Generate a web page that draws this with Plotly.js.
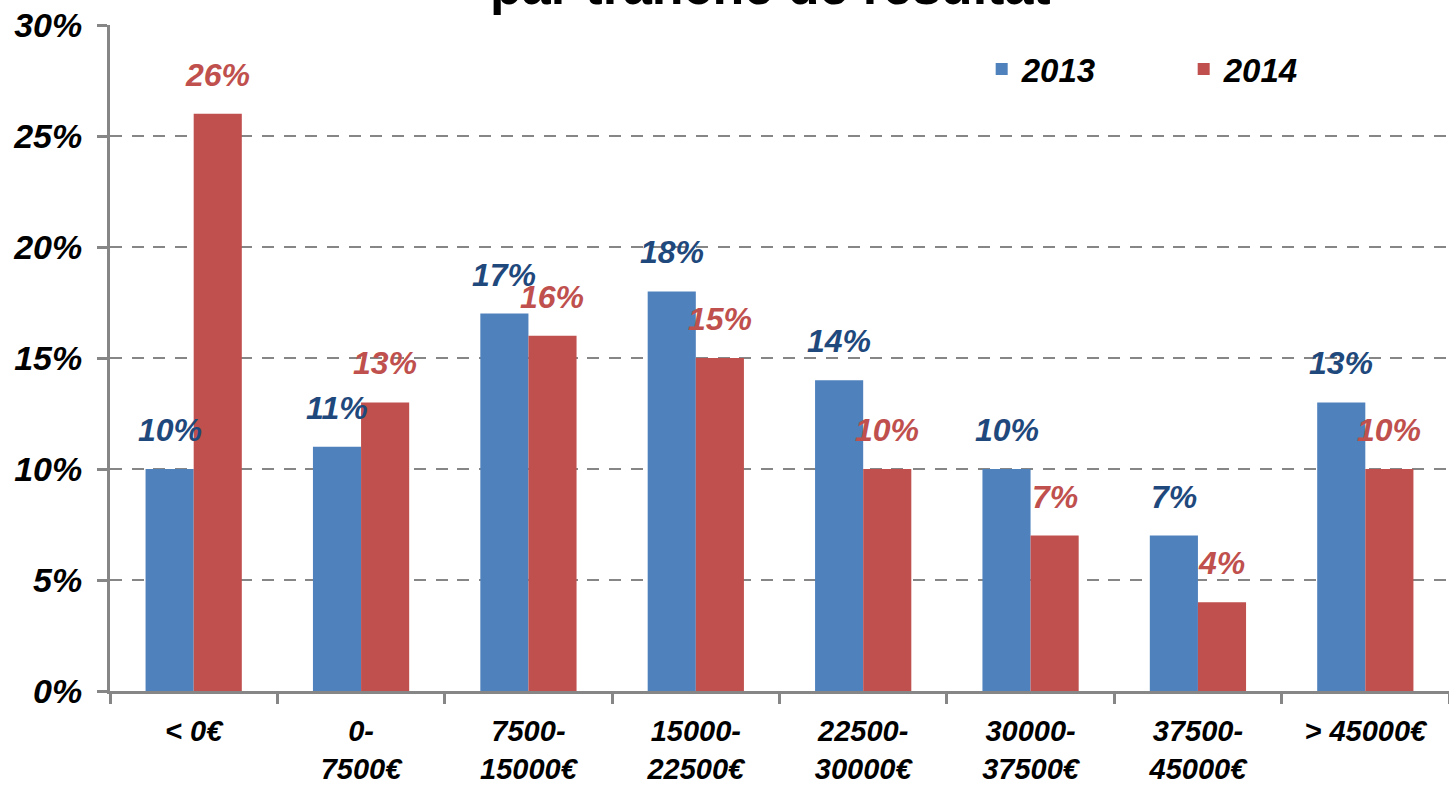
<!DOCTYPE html>
<html>
<head>
<meta charset="utf-8">
<script src="https://cdn.plot.ly/plotly-3.0.1.min.js"></script>
<style>html,body{margin:0;padding:0;background:#fff;}#chart{width:1449px;height:785px;}</style>
</head>
<body>
<div id="chart"></div>
<script>
var categories = ["< 0€", "0-<br>7500€", "7500-<br>15000€", "15000-<br>22500€", "22500-<br>30000€", "30000-<br>37500€", "37500-<br>45000€", "> 45000€"];
var series2013 = [0.10, 0.11, 0.17, 0.18, 0.14, 0.10, 0.07, 0.13];
var series2014 = [0.26, 0.13, 0.16, 0.15, 0.10, 0.07, 0.04, 0.10];
var seriesNames = ["2013", "2014"];
var titleText = "par tranche de résultat";

var FONT = "Liberation Sans, Arial, sans-serif";
var blue = "#4F81BD", red = "#C0504D", blueLbl = "#1F497D", redLbl = "#C0504D";

var traces = [
  {type: "bar", name: seriesNames[0], x: categories, y: series2013, marker: {color: blue}, hoverinfo: "none"},
  {type: "bar", name: seriesNames[1], x: categories, y: series2014, marker: {color: red}, hoverinfo: "none"}
];

var annotations = [];
function addLabels(vals, color, shift) {
  vals.forEach(function (v, i) {
    annotations.push({
      x: categories[i], y: v, xref: "x", yref: "y",
      text: Math.round(v * 100) + "%", showarrow: false,
      xanchor: "center", yanchor: "bottom", xshift: shift, yshift: 19,
      font: {family: FONT, size: 32, color: color, weight: "bold", style: "italic"}
    });
  });
}
addLabels(series2013, blueLbl, -24);
addLabels(series2014, redLbl, 24);

annotations.push({
  xref: "paper", yref: "paper", x: 0.493, y: 1, xanchor: "center", yanchor: "bottom",
  yshift: 8, text: titleText, showarrow: false,
  font: {family: FONT, size: 52, color: "#000", weight: "bold"}
});

var layout = {
  width: 1449, height: 785,
  margin: {l: 110, r: 0, t: 25, b: 94},
  paper_bgcolor: "#fff", plot_bgcolor: "#fff",
  barmode: "group", bargap: 0.425, bargroupgap: 0,
  showlegend: true,
  legend: {
    orientation: "h", x: 0.651, y: 0.976, xanchor: "left", yanchor: "top",
    entrywidth: 157, entrywidthmode: "pixels", itemwidth: 30,
    font: {family: FONT, size: 33, color: "#000", weight: "bold", style: "italic"},
    bgcolor: "rgba(0,0,0,0)"
  },
  xaxis: {
    type: "category", tickson: "boundaries", ticks: "outside", ticklen: 10, tickwidth: 3, tickcolor: "#868686",
    showline: true, linecolor: "#868686", linewidth: 3, showgrid: false, automargin: false,
    tickfont: {family: FONT, size: 29, color: "#000", weight: "bold", style: "italic"},
    ticklabelstandoff: 12, fixedrange: true
  },
  yaxis: {
    range: [0, 0.3], dtick: 0.05, tickformat: ".0%",
    ticks: "outside", ticklen: 10, tickwidth: 3, tickcolor: "#868686",
    showline: true, linecolor: "#868686", linewidth: 3, automargin: false,
    showgrid: true, gridcolor: "#868686", gridwidth: 2.5, griddash: "12px,9.7px",
    zeroline: false,
    tickfont: {family: FONT, size: 34, color: "#000", weight: "bold", style: "italic"},
    ticklabelstandoff: 8, fixedrange: true
  },
  annotations: annotations
};

Plotly.newPlot("chart", traces, layout, {displayModeBar: false, staticPlot: true});
</script>
</body>
</html>
